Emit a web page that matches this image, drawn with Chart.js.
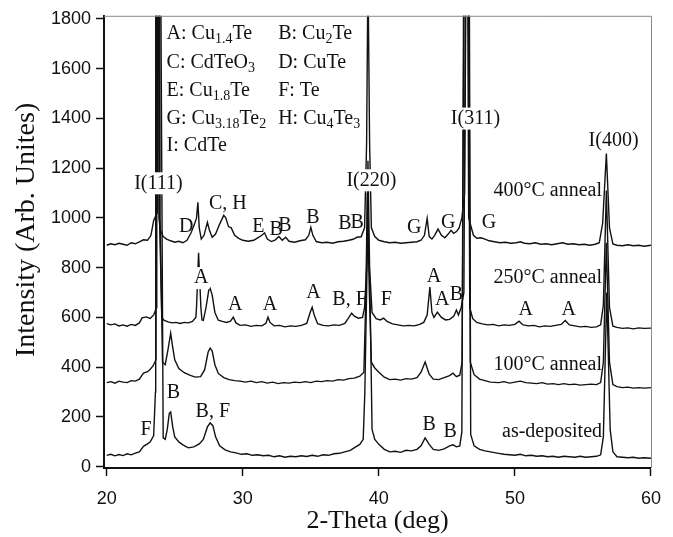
<!DOCTYPE html>
<html>
<head>
<meta charset="utf-8">
<script src="https://cdn.jsdelivr.net/npm/chart.js@4"></script>
<style>
  body { margin: 0; background: #fff; }
</style>
</head>
<body>
<canvas id="myChart" width="673" height="537"></canvas>
<script>
// Achsen-Ticks
const xTicks = [20, 30, 40, 50, 60];
const yTicks = [0, 200, 400, 600, 800, 1000, 1200, 1400, 1600, 1800];

// XRD-Kurven, [2-Theta, Intensitaet]
const asDeposited = [
  [20.0,46],[20.3,50],[20.6,44],[20.9,49],[21.2,45],[21.5,52],[21.8,48],[22.1,55],[22.4,60],[22.7,82],
  [23.0,92],[23.2,100],[23.45,125],[23.58,300],[23.6,2500],[23.92,2500],[24.15,116],[24.3,110],[24.45,150],[24.6,215],[24.7,220],
  [24.85,160],[25.0,120],[25.3,100],[25.6,88],[26.0,76],[26.4,80],[26.8,92],[27.1,110],[27.4,160],[27.6,176],
  [27.8,165],[28.0,120],[28.3,84],[28.7,68],[29.1,60],[29.5,56],[29.9,50],[30.3,52],[30.7,46],[31.1,48],
  [31.5,44],[31.9,46],[32.3,40],[32.7,44],[33.1,38],[33.5,42],[33.9,40],[34.3,44],[34.7,41],[35.1,46],
  [35.5,42],[35.9,48],[36.3,46],[36.7,52],[37.1,54],[37.5,60],[37.9,66],[38.3,80],[38.6,90],[38.85,110],
  [38.97,300],[39.1,700],[39.2,1000],[39.35,700],[39.5,150],[39.7,110],[40.0,90],[40.4,70],[40.8,60],[41.2,62],
  [41.6,58],[42.0,66],[42.4,64],[42.8,70],[43.1,84],[43.4,116],[43.7,90],[44.0,70],[44.4,66],[44.8,72],
  [45.2,84],[45.45,88],[45.7,80],[45.95,84],[46.1,140],[46.27,2500],[46.62,2500],[46.75,130],[47.0,84],[47.4,70],
  [47.8,64],[48.2,60],[48.8,54],[49.2,50],[49.6,48],[50.0,46],[50.4,50],[50.8,44],[51.2,46],[51.6,42],
  [52.0,44],[52.4,40],[52.8,42],[53.2,38],[53.6,42],[54.0,40],[54.4,38],[54.8,42],[55.2,38],[55.6,40],
  [56.0,42],[56.3,48],[56.5,120],[56.75,700],[57.0,150],[57.2,60],[57.5,40],[57.9,38],[58.3,36],[58.7,38],
  [59.1,34],[59.5,36],[60.0,34]
];
const anneal100 = [
  [20.0,338],[20.3,342],[20.6,336],[20.9,344],[21.2,340],[21.5,338],[21.8,346],[22.1,344],[22.4,352],[22.7,376],
  [23.0,382],[23.2,392],[23.4,405],[23.62,430],[23.64,2500],[23.88,2500],[23.92,1000],[24.1,420],[24.3,410],[24.5,470],[24.7,537],[24.85,480],
  [25.0,430],[25.3,395],[25.7,378],[26.1,368],[26.5,360],[26.9,362],[27.2,390],[27.45,460],[27.6,477],[27.75,465],
  [27.95,410],[28.2,375],[28.6,358],[29.0,350],[29.4,346],[29.8,344],[30.2,340],[30.6,344],[31.0,338],[31.4,342],
  [31.8,336],[32.2,340],[32.6,334],[33.0,338],[33.4,336],[33.8,340],[34.2,338],[34.6,342],[35.0,338],[35.4,344],
  [35.8,342],[36.2,346],[36.6,344],[37.0,350],[37.4,348],[37.8,354],[38.2,356],[38.6,364],[38.9,380],[39.05,700],
  [39.15,1100],[39.3,700],[39.45,420],[39.7,397],[40.0,380],[40.4,360],[40.8,350],[41.2,352],[41.6,348],[42.0,354],
  [42.4,352],[42.8,358],[43.1,380],[43.4,421],[43.7,372],[44.0,352],[44.4,350],[44.8,358],[45.2,366],[45.45,376],
  [45.7,362],[45.95,368],[46.12,420],[46.31,2500],[46.58,2500],[46.72,420],[47.0,370],[47.4,352],[47.8,346],[48.2,340],
  [48.8,338],[49.2,342],[49.6,336],[50.0,340],[50.4,344],[50.8,338],[51.2,336],[51.6,334],[52.0,338],[52.4,332],
  [52.8,334],[53.2,330],[53.6,334],[54.0,330],[54.4,332],[54.8,328],[55.2,330],[55.6,332],[56.0,330],[56.3,338],
  [56.5,420],[56.72,900],[56.95,420],[57.2,330],[57.5,322],[57.9,318],[58.3,320],[58.7,316],[59.1,318],[59.5,316],
  [60.0,318]
];
const anneal250 = [
  [20.0,575],[20.3,570],[20.6,574],[20.9,566],[21.2,570],[21.5,565],[21.8,572],[22.1,568],[22.4,578],[22.6,598],
  [22.9,602],[23.2,596],[23.45,610],[23.66,640],[23.68,2500],[23.84,2500],[23.88,1000],[24.05,600],[24.2,589],[24.5,582],[24.8,578],[25.1,580],
  [25.4,576],[25.7,580],[26.0,578],[26.3,584],[26.55,600],[26.6,640],[26.75,860],[26.92,640],[27.0,590],[27.1,588],
  [27.3,640],[27.5,710],[27.6,717],[27.75,690],[27.95,620],[28.2,589],[28.5,584],[28.8,580],[29.1,585],[29.3,601],
  [29.5,578],[29.8,568],[30.2,570],[30.6,564],[31.0,568],[31.4,566],[31.7,576],[31.85,601],[32.0,580],[32.3,566],
  [32.7,568],[33.1,562],[33.5,566],[33.9,564],[34.3,568],[34.7,576],[34.95,620],[35.1,641],[35.25,610],[35.5,575],
  [35.9,568],[36.3,566],[36.7,570],[37.1,568],[37.5,576],[37.8,600],[38.0,617],[38.2,605],[38.5,597],[38.8,600],
  [38.95,640],[39.1,800],[39.2,1230],[39.32,800],[39.5,620],[39.8,595],[40.1,590],[40.35,597],[40.6,584],[41.0,574],
  [41.4,570],[41.8,566],[42.2,568],[42.6,566],[43.0,572],[43.3,580],[43.55,610],[43.75,722],[43.9,620],[44.05,600],
  [44.3,621],[44.6,600],[44.9,590],[45.2,592],[45.5,605],[45.7,630],[45.85,610],[46.05,640],[46.25,700],[46.42,2500],[46.54,2500],
  [46.68,640],[46.9,595],[47.2,580],[47.6,574],[48.0,570],[48.4,572],[48.8,566],[49.2,570],[49.6,568],[50.0,572],
  [50.3,585],[50.6,570],[51.0,566],[51.4,568],[51.8,562],[52.2,566],[52.6,564],[53.0,568],[53.4,572],[53.7,588],
  [54.0,570],[54.4,566],[54.8,562],[55.2,564],[55.6,560],[56.0,562],[56.3,570],[56.5,650],[56.72,1110],[56.95,640],
  [57.2,565],[57.5,560],[57.9,556],[58.3,558],[58.7,554],[59.1,558],[59.5,556],[60.0,557]
];
const anneal400 = [
  [20.0,890],[20.3,896],[20.6,892],[20.9,898],[21.2,894],[21.5,890],[21.8,900],[22.1,896],[22.4,904],[22.7,912],
  [23.0,910],[23.25,930],[23.45,990],[23.7,1020],[23.72,2500],[23.8,2500],[23.84,1000],[23.95,950],[24.15,925],[24.4,915],[24.7,908],
  [25.0,902],[25.3,906],[25.6,900],[25.9,910],[26.2,940],[26.45,975],[26.6,1000],[26.7,1063],[26.8,960],[26.95,915],
  [27.15,930],[27.4,982],[27.55,950],[27.75,922],[28.0,935],[28.3,975],[28.6,1010],[28.75,1000],[28.95,965],[29.15,960],
  [29.4,930],[29.7,918],[30.0,910],[30.4,906],[30.8,910],[31.1,920],[31.4,930],[31.6,940],[31.8,915],[32.1,905],
  [32.4,912],[32.65,925],[32.9,910],[33.15,922],[33.4,906],[33.8,902],[34.2,908],[34.6,912],[34.85,930],[35.0,962],
  [35.15,930],[35.4,905],[35.8,900],[36.2,902],[36.6,898],[37.0,904],[37.4,906],[37.8,910],[38.1,914],[38.4,922],
  [38.7,924],[38.95,960],[39.1,1300],[39.2,2000],[39.32,1300],[39.45,960],[39.7,925],[40.0,910],[40.4,904],[40.8,900],
  [41.2,902],[41.6,898],[42.0,900],[42.4,902],[42.8,904],[43.1,910],[43.35,930],[43.55,998],[43.7,925],[43.9,915],
  [44.1,930],[44.35,955],[44.6,930],[44.85,920],[45.1,935],[45.3,950],[45.5,938],[45.7,945],[45.9,960],[46.1,1000],
  [46.3,1100],[46.47,2500],[46.49,2500],[46.6,1000],[46.95,930],[47.2,918],[47.5,920],[47.8,915],[48.1,908],[48.5,904],[48.9,900],
  [49.3,902],[49.7,898],[50.1,900],[50.4,904],[50.7,898],[51.1,896],[51.5,900],[51.9,894],[52.3,896],[52.7,892],
  [53.1,896],[53.5,900],[53.9,894],[54.3,896],[54.7,892],[55.1,894],[55.5,890],[55.9,894],[56.2,900],[56.45,980],
  [56.72,1259],[56.95,960],[57.2,895],[57.5,890],[57.9,888],[58.3,892],[58.7,888],[59.1,890],[59.5,886],[60.0,890]
];

// Peak-Beschriftungen: Text, 2-Theta, Intensitaet, weisser Hintergrund
const peakLabels = [
  ["I(111)", 23.8, 1139, true], ["D", 25.85, 966], ["C, H", 28.9, 1058], ["E", 31.15, 966],
  ["B", 32.45, 954], ["B", 33.1, 970], ["B", 35.15, 1002], ["B", 37.5, 978], ["B", 38.4, 982],
  ["I(220)", 39.45, 1151, true], ["G", 42.6, 962], ["G", 45.1, 982], ["I(311)", 47.1, 1399, true],
  ["G", 48.1, 982], ["I(400)", 57.25, 1311],
  ["A", 26.95, 758, true], ["A", 29.45, 650], ["A", 32.0, 650], ["A", 35.2, 698], ["B, F", 37.85, 670],
  ["F", 40.55, 670], ["A", 44.05, 762], ["A", 44.65, 670], ["B", 45.7, 690], ["A", 50.8, 630], ["A", 53.95, 630],
  ["F", 22.9, 148], ["B", 24.9, 297], ["B, F", 27.8, 221], ["B", 43.7, 168], ["B", 45.25, 140]
];
// Probenbezeichnung, rechtsbuendig bei 2-Theta 56.4
const sampleLabels = [["400°C anneal", 1111], ["250°C anneal", 758], ["100°C anneal", 409], ["as-deposited", 140]];
// Phasen-Legende: ungerade Teile sind tiefgestellt
const phaseKey = [
  ["A: Cu", "1.4", "Te"], ["B: Cu", "2", "Te"],
  ["C: CdTeO", "3"], ["D: CuTe"],
  ["E: Cu", "1.8", "Te"], ["F: Te"],
  ["G: Cu", "3.18", "Te", "2"], ["H: Cu", "4", "Te", "3"],
  ["I: CdTe"]
];
const yTitle = "Intensity (Arb. Unites)";

const toPoints = arr => arr.map(p => ({x: p[0], y: p[1]}));

const labelPlugin = {
  id: 'xrdLabels',
  afterDatasetsDraw(chart) {
    const {ctx, chartArea, scales: {x, y}} = chart;
    ctx.save();
    // Rahmen oben und rechts
    ctx.strokeStyle = '#888';
    ctx.lineWidth = 1;
    ctx.beginPath();
    ctx.moveTo(chartArea.left, chartArea.top + 0.5);
    ctx.lineTo(chartArea.right + 0.5, chartArea.top + 0.5);
    ctx.lineTo(chartArea.right + 0.5, chartArea.bottom);
    ctx.stroke();

    ctx.font = '20px "Liberation Serif"';
    ctx.textBaseline = 'middle';
    ctx.textAlign = 'center';
    peakLabels.forEach(([t, vx, vy, bg]) => {
      const px = x.getPixelForValue(vx), py = y.getPixelForValue(vy);
      if (bg) {
        const w = ctx.measureText(t).width;
        ctx.fillStyle = '#fff';
        ctx.fillRect(px - w / 2 - 1, py - 11, w + 2, 22);
      }
      ctx.fillStyle = '#111';
      ctx.fillText(t, px, py);
    });

    ctx.textAlign = 'right';
    sampleLabels.forEach(([t, vy]) => {
      ctx.fillText(t, x.getPixelForValue(56.4), y.getPixelForValue(vy));
    });

    // Legende mit Tiefstellung
    ctx.textAlign = 'left';
    const colX = [24.4, 32.6];
    const rowY = [1740, 1624, 1512, 1400, 1291];
    phaseKey.forEach((parts, i) => {
      let px = x.getPixelForValue(colX[i % 2]);
      const py = y.getPixelForValue(rowY[Math.floor(i / 2)]);
      parts.forEach((s, j) => {
        const sub = j % 2 === 1;
        ctx.font = sub ? '14px "Liberation Serif"' : '20px "Liberation Serif"';
        ctx.fillText(s, px, sub ? py + 6 : py);
        px += ctx.measureText(s).width;
      });
    });

    // y-Achsentitel, etwas ueber der Mitte
    ctx.translate(27, (chartArea.top + chartArea.bottom) / 2 - 12);
    ctx.rotate(-Math.PI / 2);
    ctx.textAlign = 'center';
    ctx.font = '28px "Liberation Serif"';
    ctx.fillText(yTitle, 0, 0);
    ctx.restore();
  }
};

const ctx = document.getElementById("myChart").getContext("2d");

const lineStyle = {
  borderColor: '#111',
  borderWidth: 1.4,
  pointRadius: 0,
  tension: 0,
  fill: false
};

new Chart(ctx, {
  type: 'line',
  data: {
    datasets: [
      {label: 'as-deposited', data: toPoints(asDeposited), ...lineStyle},
      {label: '100°C anneal', data: toPoints(anneal100), ...lineStyle},
      {label: '250°C anneal', data: toPoints(anneal250), ...lineStyle},
      {label: '400°C anneal', data: toPoints(anneal400), ...lineStyle}
    ]
  },
  options: {
    responsive: false,
    animation: false,
    layout: {padding: {top: 15, right: 18, left: 0, bottom: 0}},
    plugins: {
      legend: {display: false},
      tooltip: {enabled: false}
    },
    scales: {
      x: {
        type: 'linear',
        min: 19.8,
        max: 60,
        afterBuildTicks: s => { s.ticks = xTicks.map(v => ({value: v})); },
        afterFit: s => { s.height = 69; },
        border: {color: '#111', width: 2},
        grid: {drawOnChartArea: false, tickLength: 8, color: '#111', tickWidth: 1.5},
        ticks: {color: '#111', font: {family: 'Liberation Sans', size: 18}, padding: 12, maxRotation: 0},
        title: {display: true, text: '2-Theta (deg)', color: '#111',
                font: {family: 'Liberation Serif', size: 26}, padding: {top: 0, bottom: 0}}
      },
      y: {
        min: -5,
        max: 1812,
        afterBuildTicks: s => { s.ticks = yTicks.map(v => ({value: v})); },
        afterFit: s => { s.width = 104; },
        border: {color: '#111', width: 2},
        grid: {drawOnChartArea: false, tickLength: 8, color: '#111', tickWidth: 1.5},
        ticks: {color: '#111', font: {family: 'Liberation Sans', size: 18}, padding: 5,
                callback: v => String(v)}
      }
    }
  },
  plugins: [labelPlugin]
});
</script>
</body>
</html>
